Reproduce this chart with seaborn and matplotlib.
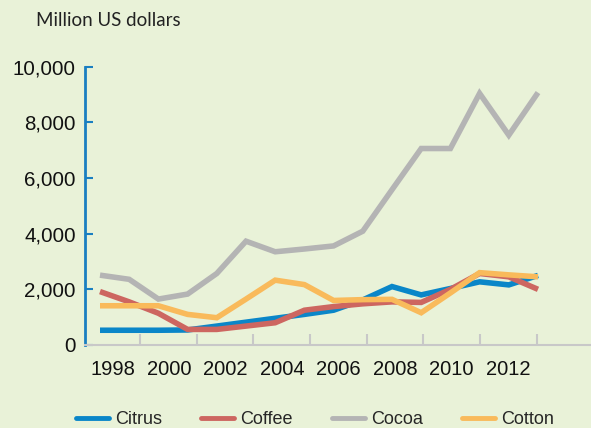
import numpy as np
import pandas as pd
import matplotlib
matplotlib.use("Agg")
import matplotlib.pyplot as plt
import seaborn as sns
from matplotlib.lines import Line2D

# ------------------------
# DATA (million US dollars)
# ------------------------
years = list(range(1998, 2014))
citrus = [530, 530, 530, 540, 680, 820, 960, 1100, 1250, 1620, 2100, 1800, 2030, 2270, 2160, 2500]
coffee = [1920, 1550, 1140, 560, 560, 680, 800, 1250, 1380, 1480, 1550, 1530, 2000, 2570, 2450, 2000]
cocoa = [2510, 2360, 1650, 1830, 2570, 3730, 3350, 3450, 3560, 4090, 5580, 7060, 7060, 9040, 7540, 9070]
cotton = [1410, 1410, 1410, 1100, 980, 1650, 2330, 2170, 1600, 1630, 1640, 1160, 1870, 2600, 2520, 2450]

crops = ["Citrus", "Coffee", "Cocoa", "Cotton"]
colors = {"Citrus": "#0A86C8", "Coffee": "#CD6660", "Cocoa": "#B4B4B4", "Cotton": "#F9BA5B"}
year_labels = [str(y) for y in range(1998, 2013, 2)]
y_ticks = [0, 2000, 4000, 6000, 8000, 10000]

BG = "#E9F2D8"

df = pd.DataFrame({
    "year": years * 4,
    "value": citrus + coffee + cocoa + cotton,
    "crop": np.repeat(crops, len(years)),
})

# ------------------------
# FIGURE
# ------------------------
sns.set_theme(style="white")
plt.rcParams["font.family"] = ["Liberation Sans", "DejaVu Sans"]

fig = plt.figure(figsize=(5.91, 4.28), dpi=100, facecolor=BG)
ax = fig.add_axes([85 / 591, 1 - 345 / 428, 1 - 85 / 591, (345 - 66.7) / 428])
ax.set_facecolor(BG)

sns.lineplot(data=df, x="year", y="value", hue="crop", hue_order=crops,
             palette=colors, linewidth=4, legend=False, ax=ax)
for ln in ax.lines:
    ln.set_solid_joinstyle("miter")
    ln.set_solid_capstyle("butt")

# pixel mapping: 1998 at px 100, ~29.2 px per year
px_per_year = 29.2
ax.set_xlim(1998 - 15 / px_per_year, 1998 + 491 / px_per_year)
ax.set_ylim(0, 10000)

# gray ticks between the years, labels shifted left of them
tick_pos = [1998 + (140 + 56.67 * k - 100) / px_per_year for k in range(8)]
label_pos = [1998 + (112.5 + 56.5 * k - 100) / px_per_year for k in range(8)]
ax.set_xticks(tick_pos)
ax.set_xticklabels([])
ax.set_xticks(label_pos, minor=True)
ax.set_xticklabels(year_labels, minor=True)
ax.tick_params(axis="x", which="major", bottom=True, direction="in", length=8,
               width=1.5, color="#C8C8C8")
ax.tick_params(axis="x", which="minor", bottom=True, length=0, pad=11,
               labelsize=14.5, labelcolor="#111111")

ax.set_yticks(y_ticks)
ax.set_yticklabels([f"{v:,}" for v in y_ticks])
ax.tick_params(axis="y", left=True, direction="in", length=6, width=1.5,
               color="#1A7FC1", pad=6.5, labelsize=14.8, labelcolor="#111111")

ax.set_xlabel("")
ax.set_ylabel("")
for s in ["top", "right"]:
    ax.spines[s].set_visible(False)
ax.spines["left"].set_color("#1A7FC1")
ax.spines["left"].set_linewidth(2)
ax.spines["bottom"].set_color("#C8C8C8")
ax.spines["bottom"].set_linewidth(1.5)

fig.text(36 / 591, 1 - 21 / 428, "Million US dollars", fontsize=13.5,
         family=["Lato", "DejaVu Sans"], color="#222222", va="center", ha="left")

handles = [Line2D([], [], color=colors[c], linewidth=3.5) for c in crops]
fig.legend(handles, crops, loc="center", bbox_to_anchor=(315 / 591, 1 - 420 / 428),
           ncol=4, frameon=False, handlelength=1.83, handletextpad=0.33,
           columnspacing=2.16, borderpad=0, borderaxespad=0,
           prop={"family": ["Liberation Sans", "DejaVu Sans"], "size": 13})

fig.savefig("out.png", dpi=100, facecolor=BG)
